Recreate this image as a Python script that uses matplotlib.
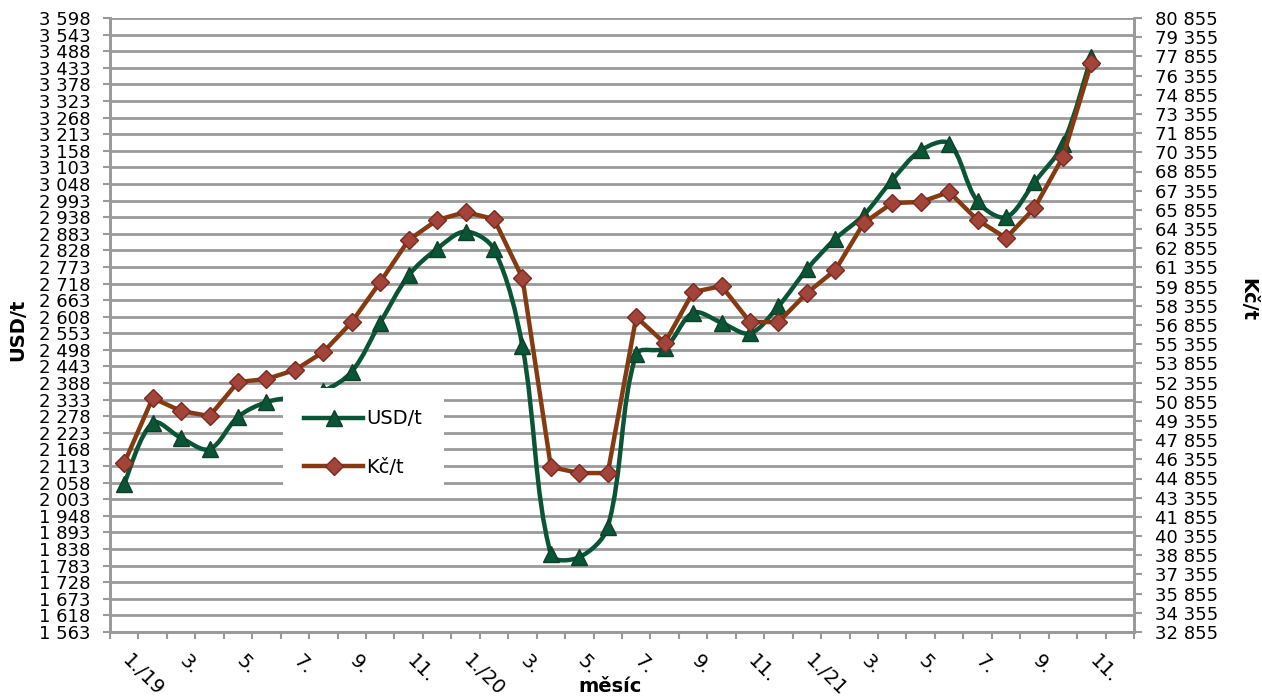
import numpy as np
import matplotlib
matplotlib.use("Agg")
import matplotlib.pyplot as plt
from matplotlib.path import Path
from matplotlib.patches import PathPatch
from matplotlib.lines import Line2D

# data (months 1/2019 .. 11/2021)
months = [f"{m}." for m in range(1, 13)] * 3
months[0], months[12], months[24] = "1./19", "1./20", "1./21"
usd = [2055, 2256, 2206, 2169, 2276, 2325, 2342, 2362, 2426, 2588, 2745, 2833,
       2890, 2831, 2510, 1820, 1811, 1911, 2484, 2504, 2621, 2588, 2553, 2643,
       2765, 2866, 2945, 3061, 3159, 3182, 2990, 2938, 3054, 3180, 3470]
kc = [46062, 51144, 50128, 49737, 52395, 52630, 53333, 54741, 57086, 60214, 63498, 65061,
      65687, 65139, 60526, 45749, 45280, 45280, 57477, 55445, 59432, 59901, 57086, 57086,
      59354, 61152, 64827, 66390, 66468, 67251, 65061, 63654, 66000, 69987, 77337]

usd_ticks = list(range(1563, 3599, 55))
kc_ticks = list(range(32855, 80856, 1500))

green = "#0a5536"
brown = "#853a12"
grid_c = "#9a9a9a"
fs = 13


def fmt(v):
    return f"{v:,}".replace(",", " ")


def smooth_path(ax, xs, ys):
    # Excel-like smoothed line: Bezier segments, control arms weighted by
    # the neighbouring segment lengths (measured in screen pixels)
    data = np.column_stack([xs, ys]).astype(float)
    p = ax.transData.transform(data)
    n = len(p)
    seg = np.hypot(*np.diff(p, axis=0).T)
    verts = [p[0]]
    codes = [Path.MOVETO]
    for i in range(n - 1):
        a = p[i - 1] if i > 0 else p[i]
        d = p[i + 2] if i + 2 < n else p[i + 1]
        l_prev = seg[i - 1] if i > 0 else seg[i]
        l_next = seg[i + 1] if i + 2 < n else seg[i]
        c1 = p[i] + (p[i + 1] - a) * seg[i] / (seg[i] + l_prev) / 3
        c2 = p[i + 1] - (d - p[i]) * seg[i] / (seg[i] + l_next) / 3
        verts += [c1, c2, p[i + 1]]
        codes += [Path.CURVE4] * 3
    verts = ax.transData.inverted().transform(np.array(verts))
    return Path(verts, codes)


fig = plt.figure(figsize=(12.62, 6.98), dpi=100)
ax = fig.add_axes([110 / 1262, 1 - 632 / 698, 1024 / 1262, 614 / 698])
ax2 = ax.twinx()

x = np.arange(len(usd))

ax.set_xlim(-0.5, len(months) - 0.5)
ax.set_ylim(usd_ticks[0], usd_ticks[-1])
ax2.set_ylim(kc_ticks[0], kc_ticks[-1])

# USD/t - smoothed
ax.add_patch(PathPatch(smooth_path(ax, x, usd), fill=False, edgecolor=green, lw=3.2, zorder=3))
ax.plot(x, usd, ls="none", marker="^", ms=11, mfc=green, mec="#0f3f2a", zorder=4)

# Kc/t - straight
ax2.plot(x, kc, color=brown, lw=3.2, marker="D", ms=9, mfc="#a2443a", mec="#7a2a20", zorder=4)

ax.set_yticks(usd_ticks)
ax.set_yticklabels([fmt(v) for v in usd_ticks], fontsize=fs)
ax2.set_yticks(kc_ticks)
ax2.set_yticklabels([fmt(v) for v in kc_ticks], fontsize=fs)

ax.set_xticks(x[::2] - 0.2)
ax.set_xticklabels(months[:35:2], fontsize=14)
for t in ax.get_xticklabels():
    t.set_rotation(-45)
    t.set_ha("left")
    t.set_va("top")
ax.set_xticks(np.arange(len(months) + 1) - 0.5, minor=True)
ax.tick_params(axis="x", which="major", length=0, pad=14)
ax.tick_params(axis="x", which="minor", length=5, width=1.5, color=grid_c, direction="out")
ax.tick_params(axis="y", length=5, width=1.5, color=grid_c, pad=9)
ax2.tick_params(axis="y", length=6, width=1.5, color=grid_c, pad=9)

ax.yaxis.grid(True, color=grid_c, lw=2)
ax.set_axisbelow(True)
for a in (ax, ax2):
    for s in a.spines.values():
        s.set_color(grid_c)
        s.set_linewidth(2)
    a.spines["top"].set_visible(False)

fig.text(18 / 1262, 1 - 330 / 698, "USD/t", rotation=90, ha="center", va="center",
         fontsize=14, fontweight="bold")
fig.text(1248 / 1262, 1 - 300 / 698, "Kč/t", rotation=270, ha="center", va="center",
         fontsize=14, fontweight="bold")
fig.text(610 / 1262, 1 - 686 / 698, "měsíc", ha="center", va="center",
         fontsize=14, fontweight="bold")

handles = [Line2D([], [], color=green, lw=3.2, marker="^", ms=11, mfc=green, mec="#0f3f2a"),
           Line2D([], [], color=brown, lw=3.2, marker="D", ms=9, mfc="#a2443a", mec="#7a2a20")]
leg = ax2.legend(handles, ["USD/t", "Kč/t"], loc="upper left",
                 bbox_to_anchor=(283 / 1262, 1 - 388 / 698), bbox_transform=fig.transFigure,
                 fontsize=14, frameon=True, fancybox=False, framealpha=1, facecolor="white",
                 edgecolor="none", borderpad=1.1, labelspacing=1.5, handlelength=3.0,
                 handletextpad=0.2, borderaxespad=0, markerscale=1)
leg.set_zorder(10)

fig.savefig("out.png", dpi=100)
